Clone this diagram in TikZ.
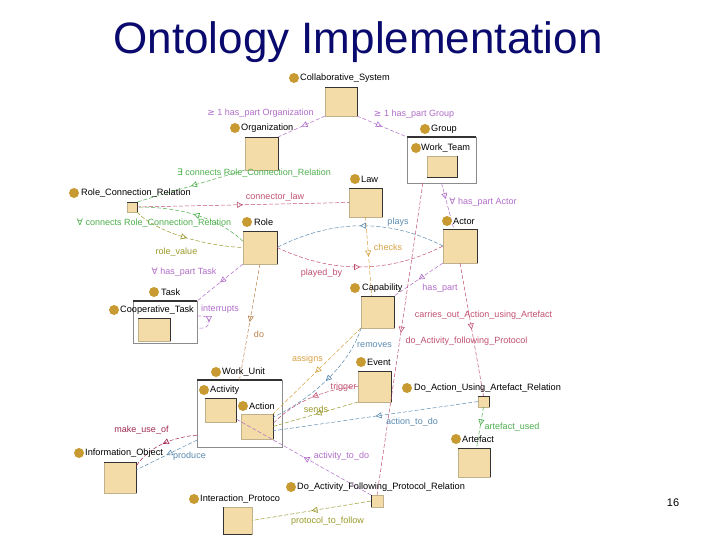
\documentclass[tikz,border=0pt]{standalone}
\usepackage{fontspec}
\setmainfont{Liberation Sans}
\newfontfamily\symf{DejaVu Sans}
\usetikzlibrary{decorations.markings,arrows.meta}
\definecolor{navy}{HTML}{0A0A6E}
\definecolor{dotc}{HTML}{C89B32}
\definecolor{boxfill}{HTML}{F3DCA8}
\definecolor{boxedge}{HTML}{C0B08C}
\definecolor{purp}{HTML}{B06CC8}
\definecolor{grn}{HTML}{4CAE4C}
\definecolor{pinkred}{HTML}{C05070}
\definecolor{olive}{HTML}{989828}
\definecolor{orng}{HTML}{D8A040}
\definecolor{blu}{HTML}{5A8AB0}
\definecolor{darkred}{HTML}{A02850}
\definecolor{brn}{HTML}{B8804A}
\begin{document}
\begin{tikzpicture}[x=1pt,y=-1pt,
  dotn/.style={circle, fill=dotc, minimum size=10pt, inner sep=0pt, outer sep=0pt},
  lbl/.style={anchor=west, inner sep=0pt, font=\fontsize{9.2}{10}\selectfont, text=black},
  cls/.style={draw=boxedge, fill=boxfill, inner sep=0pt, outer sep=0pt, line width=0.6pt},
  cont/.style={draw=black!45, fill=white, inner sep=0pt, outer sep=0pt, line width=0.6pt},
  darkedge/.style={draw=black!80, line width=0.9pt},
  conttop/.style={draw=black!80, line width=1.6pt},
  elab/.style={inner sep=0pt, font=\fontsize{9}{10}\selectfont, text=#1},
  rel/.style 2 args={draw=#1, line width=0.5pt, dash pattern=on 4pt off 2pt,
    postaction={decorate},
    decoration={markings, mark=at position #2 with {\arrow[solid, line width=0.6pt]{Triangle[open,length=6pt,width=6pt]}}}}
]
\useasboundingbox (0,0) rectangle (720,540);

% title
\node[font=\fontsize{44}{48}\selectfont, text=navy, inner sep=0pt] (title) at (358,42) {Ontology Implementation};

% containers
\node[cont, minimum width=69pt, minimum height=46pt] (grp) at (441.5,160) {};
\node[cont, minimum width=64pt, minimum height=42pt] (task) at (165,322) {};
\node[cont, minimum width=85pt, minimum height=67pt] (wu) at (239.5,413.5) {};
\foreach \n in {grp,task,wu} \draw[conttop] (\n.north west) -- (\n.north east);

% class boxes
\node[cls, minimum width=32pt, minimum height=29pt] (cs) at (341,101.5) {};
\node[cls, minimum width=33pt, minimum height=33pt] (org) at (261.5,153.5) {};
\node[cls, minimum width=30pt, minimum height=21pt] (wt) at (442,166.5) {};
\node[cls, minimum width=33pt, minimum height=29pt] (law) at (365.5,202.5) {};
\node[cls, minimum width=10pt, minimum height=10pt] (rcr) at (132,207) {};
\node[cls, minimum width=34pt, minimum height=33pt] (role) at (260,247.5) {};
\node[cls, minimum width=34pt, minimum height=34pt] (act) at (460,246) {};
\node[cls, minimum width=32pt, minimum height=23pt] (ct) at (154,329.5) {};
\node[cls, minimum width=33pt, minimum height=32pt] (cap) at (377.5,312) {};
\node[cls, minimum width=31pt, minimum height=24pt] (actv) at (220.5,410) {};
\node[cls, minimum width=32pt, minimum height=25pt] (acn) at (257,426.5) {};
\node[cls, minimum width=33pt, minimum height=31pt] (ev) at (374.5,386.5) {};
\node[cls, minimum width=11pt, minimum height=11pt] (daua) at (483.5,401.5) {};
\node[cls, minimum width=32pt, minimum height=29pt] (art) at (474,462.5) {};
\node[cls, minimum width=32pt, minimum height=31pt] (io) at (120,477.5) {};
\node[cls, minimum width=29pt, minimum height=27pt] (ip) at (237.5,520.5) {};
\node[cls, minimum width=12pt, minimum height=12pt] (dafp) at (377,501) {};
\foreach \n in {cs,org,law,rcr,role,act,ct,cap,actv,ev,daua,art,io}
  \draw[darkedge] (\n.north west) -- (\n.north east) -- (\n.south east);
\draw[darkedge] (wt.south west) -- (wt.south east) -- (wt.north east);
\draw[darkedge] (ip.north west) -- (ip.south west) -- (ip.south east);
\draw[darkedge] (dafp.north west) -- (dafp.south west);
\draw[darkedge] (acn.north east) -- (acn.south east);

% connectors
\draw[rel={purp}{0.5}] (cs.south west) -- (org.north east);
\draw[rel={purp}{0.5}] (cs.south east) -- (grp.north west);
\draw[rel={grn}{0.5}] (org.south west) -- (rcr.north east);
\draw[rel={pinkred}{0.5}] (rcr.east) -- (law.west);
\draw[rel={grn}{0.5}] (role.160) .. controls (215,215) and (175,207) .. (rcr.east);
\draw[rel={olive}{0.5}] (rcr.south east) .. controls (155,232) and (205,246) .. (role.west);
\draw[rel={purp}{0.5}] (role.south west) -- (task.north east);
\draw[rel={brn}{0.5}] (role.south) -- (wu.north);
\draw[rel={blu}{0.5}] (act.west) .. controls +(-55,-28) and +(55,-28) .. (role.east);
\draw[rel={pinkred}{0.5}] (role.east) .. controls +(55,26) and +(-55,28) .. (act.west);
\draw[rel={orng}{0.5}] (law.south) -- (cap.110);
\draw[rel={purp}{0.5}] (act.south west) -- (cap.north east);
\draw[rel={purp}{0.35}] (grp.south) -- (act.110);
\draw[rel={pinkred}{0.48}] (grp.231) -- (dafp.north);
\draw[rel={pinkred}{0.5}] (act.south) -- (daua.north);
\draw[rel={orng}{0.52}] (cap.south west) -- (acn.north east);
\draw[rel={blu}{0.5}] (cap.south west) .. controls (350,365) and (310,400) .. (acn.30);
\draw[rel={pinkred}{0.5}] (ev.west) .. controls (330,388) and (295,400) .. (acn.10);
\draw[rel={olive}{0.5}] (ev.south west) -- (acn.east);
\draw[rel={blu}{0.5}] (daua.west) -- (acn.345);
\draw[rel={grn}{0.45}] (daua.south) -- (art.80);
\draw[rel={purp}{0.5}] (dafp.north west) -- (actv.330);
\draw[rel={olive}{0.5}] (dafp.west) -- (ip.east);
\draw[rel={darkred}{0.5}] (wu.207) .. controls (175,437) and (150,445) .. (io.35);
\draw[rel={blu}{0.5}] (wu.212) -- (io.25);
\draw[rel={purp}{0.5}] (task.10) .. controls +(16,-4) and +(16,4) .. (task.350);

% dots and class labels
\node[dotn] (csd) at (294,78) {};   \node[lbl] (csl) at (300,78) {Collaborative\_System};
\node[dotn] (orgd) at (235,128) {}; \node[lbl] (orgl) at (241,128) {Organization};
\node[dotn] (grpd) at (425,129) {}; \node[lbl] (grpl) at (431,129) {Group};
\node[dotn] (wtd) at (416,148) {};  \node[lbl] (wtl) at (421,148) {Work\_Team};
\node[dotn] (lawd) at (355,179) {}; \node[lbl] (lawl) at (361,179) {Law};
\node[dotn] (rcrd) at (74,193) {};  \node[lbl] (rcrl) at (81,193) {Role\_Connection\_Relation};
\node[dotn] (roled) at (247,222) {};\node[lbl] (rolel) at (254,222) {Role};
\node[dotn] (actd) at (447,221) {}; \node[lbl] (actl) at (453,221) {Actor};
\node[dotn] (taskd) at (154,292) {};\node[lbl] (taskl) at (161,292) {Task};
\node[dotn] (ctd) at (114,310) {};  \node[lbl] (ctl) at (120,310) {Cooperative\_Task};
\node[dotn] (capd) at (355,288) {}; \node[lbl] (capl) at (362,288) {Capability};
\node[dotn] (wud) at (216,372) {};  \node[lbl] (wul) at (222,372) {Work\_Unit};
\node[dotn] (actvd) at (204,390) {};\node[lbl] (actvl) at (210,390) {Activity};
\node[dotn] (acnd) at (243,406) {}; \node[lbl] (acnl) at (249,406) {Action};
\node[dotn] (evd) at (361,362) {};  \node[lbl] (evl) at (367,362) {Event};
\node[dotn] (dauad) at (407,388) {};\node[lbl] (daual) at (414,388) {Do\_Action\_Using\_Artefact\_Relation};
\node[dotn] (artd) at (456,439) {}; \node[lbl] (artl) at (462,439) {Artefact};
\node[dotn] (iod) at (79,453) {};   \node[lbl] (iol) at (85,453) {Information\_Object};
\node[dotn] (ipd) at (194,499) {};  \node[lbl] (ipl) at (200,499) {Interaction\_Protoco};
\node[dotn] (dafpd) at (291,487) {};\node[lbl] (dafpl) at (297,487) {Do\_Activity\_Following\_Protocol\_Relation};

% connector labels
\node[elab=purp] (l1) at (260.5,113) {{\symf ≥} 1 has\_part Organization};
\node[elab=purp] (l2) at (414,114) {{\symf ≥} 1 has\_part Group};
\node[elab=grn] (l3) at (254,173) {{\symf ∃} connects Role\_Connection\_Relation};
\node[elab=pinkred] (l4) at (275,197) {connector\_law};
\node[elab=grn] (l5) at (154,223) {{\symf ∀} connects Role\_Connection\_Relation};
\node[elab=olive] (l6) at (176.5,252) {role\_value};
\node[elab=purp] (l7) at (184,272) {{\symf ∀} has\_part Task};
\node[elab=brn] (l8) at (259,334) {do};
\node[elab=blu] (l9) at (398,222) {plays};
\node[elab=pinkred] (l10) at (321.5,273) {played\_by};
\node[elab=orng] (l11) at (388,247) {checks};
\node[elab=purp] (l12) at (440,288) {has\_part};
\node[elab=purp] (l13) at (483,202) {{\symf ∀} has\_part Actor};
\node[elab=pinkred] (l14) at (466.5,341) {do\_Activity\_following\_Protocol};
\node[elab=pinkred] (l15) at (483.5,315) {carries\_out\_Action\_using\_Artefact};
\node[elab=orng] (l16) at (307.5,359) {assigns};
\node[elab=blu] (l17) at (374.5,345) {removes};
\node[elab=pinkred] (l18) at (343.5,387) {trigger};
\node[elab=olive] (l19) at (316,409) {sends};
\node[elab=blu] (l20) at (412,422) {action\_to\_do};
\node[elab=grn] (l21) at (512,427) {artefact\_used};
\node[elab=purp] (l22) at (341.5,456) {activity\_to\_do};
\node[elab=olive] (l23) at (327.5,521) {protocol\_to\_follow};
\node[elab=darkred] (l24) at (141.5,430) {make\_use\_of};
\node[elab=blu] (l25) at (189.5,456) {produce};
\node[elab=purp] (l26) at (220,309) {interrupts};

\node[inner sep=0pt, font=\fontsize{11}{12}\selectfont] (pg) at (673,503) {16};
\end{tikzpicture}
\end{document}
